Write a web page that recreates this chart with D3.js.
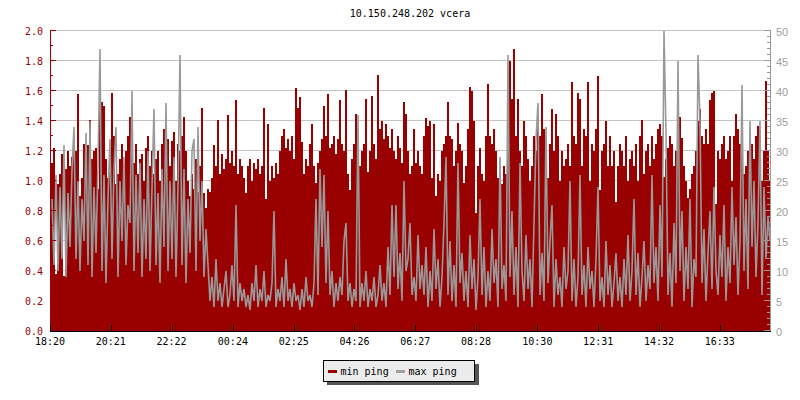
<!DOCTYPE html>
<html><head><meta charset="utf-8">
<script src="https://cdn.jsdelivr.net/npm/d3@7"></script>
<style>body{margin:0;background:#fff}svg{display:block}</style>
</head><body><svg id="c" width="800" height="400"></svg>
<script>
const title = "10.150.248.202 vcera";
const xLabels = ["18:20","20:21","22:22","00:24","02:25","04:26","06:27","08:28","10:30","12:31","14:32","16:33"];
const leftTickLabels = ["0.0","0.2","0.4","0.6","0.8","1.0","1.2","1.4","1.6","1.8","2.0"];
const rightTickLabels = ["0","5","10","15","20","25","30","35","40","45","50"];
const seriesNames = ["min ping","max ping"];
const spanMinutes = 1433;

// min ping (ms, left axis)
const minPing = [
1.12,1.22,0.38,0.98,1.05,1.18,0.37,1.08,1.2,1.1,1.16,1.28,1.2,1.58,0.9,1.02,1.25,1.04,1.24,1.41,
1.15,1.2,1.22,0.95,1.47,1.53,1.5,1.15,1.02,1.2,1.59,1.3,0.98,1.05,1.15,1.25,1.1,1.2,1.3,1.43,
1.2,1.12,1.25,1.05,1.15,1.18,1.0,1.22,1.3,1.1,1.2,1.05,1.15,1.2,1.0,1.25,1.35,1.2,1.28,1.1,
1.27,1.33,1.0,1.25,1.2,1.3,1.43,1.2,1.0,0.9,1.05,0.95,1.15,0.93,1.1,1.49,0.92,0.82,
0.95,0.93,1.02,1.24,1.1,1.41,1.05,1.18,1.08,1.15,1.44,1.12,1.2,1.1,1.54,1.05,1.15,1.1,1.02,0.92,
1.1,1.15,1.0,1.12,1.08,1.15,1.05,1.1,1.49,0.88,1.38,1.0,1.1,1.02,1.12,1.05,1.2,1.3,1.35,1.22,
1.28,1.2,1.3,1.15,1.62,1.49,1.56,1.26,1.05,1.15,1.1,1.25,1.38,1.1,0.99,1.12,1.2,1.28,1.5,1.3,
1.58,1.22,1.25,1.3,1.18,1.28,1.54,1.25,1.2,1.61,1.05,0.94,1.15,1.25,1.45,1.18,1.1,1.2,1.25,1.55,
1.06,1.2,1.57,1.25,1.15,1.71,1.35,1.4,1.28,1.38,1.3,1.22,1.35,1.2,1.15,1.3,1.22,1.12,1.53,1.45,
1.2,1.05,1.1,1.35,1.12,1.2,1.1,1.05,
1.3,1.42,1.37,1.4,1.02,1.38,0.9,1.05,1.0,1.2,1.25,1.3,1.53,1.3,1.28,1.1,1.2,1.39,1.25,1.2,
0.99,1.1,1.35,1.63,1.6,1.4,0.79,1.1,1.22,1.05,1.0,1.3,1.65,1.3,1.25,1.35,1.2,1.02,1.05,0.98,
1.1,1.05,1.4,1.8,1.55,1.88,1.3,1.55,1.2,1.1,1.4,1.3,1.15,1.0,1.1,1.3,1.2,1.45,1.3,1.58,
1.35,1.2,1.02,1.25,1.48,1.2,1.45,1.3,1.0,1.2,1.1,1.15,1.25,1.1,1.66,1.3,1.25,1.59,1.55,1.1,
1.35,1.3,1.66,1.0,1.25,1.2,1.35,1.7,0.94,1.2,1.25,1.4,1.1,1.3,1.1,1.2,0.86,1.1,1.25,1.2,
1.1,1.3,1.0,1.15,1.2,1.1,1.25,1.0,1.3,1.41,1.05,1.2,1.25,1.1,1.3,1.15,1.25,1.35,1.38,1.3,
1.03,1.15,1.22,1.3,1.25,1.1,1.2,1.35,1.43,1.29,1.1,1.0,0.89,0.95,1.05,1.1,1.2,1.4,1.48,1.3,
1.25,1.35,1.25,1.54,1.59,1.6,0.85,1.2,1.15,1.25,1.3,1.15,1.2,1.3,1.0,1.3,1.45,1.35,1.25,1.2,
1.05,1.1,1.2,1.15,1.25,1.15,1.3,1.37,1.1,1.0,1.2,1.67,1.2,1.0
];

// max ping (ms, right axis)
const maxPing = [
22,11,26,10,24,12,31,9,23,14,27,34,12,25,10,22,15,33,11,35,
9,24,13,28,47,10,26,8,22,32,12,27,34,9,25,15,29,11,21,18,
40,10,26,13,28,9,22,12,30,10,24,37,11,23,8,27,14,38,10,25,
12,29,9,24,46,11,27,8,22,13,30,32,10,34,15,25,9,17,
11,5,9,4,12,5,8,4,7,10,4,6,11,5,21,4,8,5,7,4,
6,3.5,8,5,11,4,7,5,10,4,6,5,8,20,4,7,5,9,4,12,
5,7,4,8,5,6,3.5,7,4,9,5,6,4,8,22,6,27,14,26,8,
20,6,10,4,8,5,9,6,15,18,5,8,4,7,5,36,4,8,5,10,
4,7,5,9,4,6,11,5,8,4,14,6,21,9,21,7,13,5,25,10,
12,18,6,9,5,16,7,11,
6,14,4,10,5,17,7,12,4,9,18,29,6,15,5,11,4,28,8,13,
5,10,4,16,7,12,3.5,9,22,6,14,4,10,5,17,8,12,4,29,7,
11,5,46,9,20,6,14,4,28,10,5,16,7,12,4,18,32,38,6,13,
5,34,8,15,21,4,12,6,9,4,14,7,10,25,5,12,4,9,26,6,
11,4,14,7,10,4,12,24,5,9,4,15,6,11,4,8,13,5,9,4,
12,6,16,5,10,22,6,13,4,9,15,5,11,7,26,8,14,5,21,9,
50,33,6,13,4,18,8,45,10,20,5,14,7,22,4,12,9,46,35,8,
17,5,13,20,7,24,10,6,16,9,21,5,14,8,24,11,19,6,15,41,
10,22,7,35,14,25,9,18,35,6,24,12,19,15
];

const svg = d3.select("#c");
const N = minPing.length;
const step = spanMinutes / N;

const x = d3.scaleLinear().domain([0, spanMinutes]).range([51, 771]);
const yL = d3.scaleLinear().domain([0, 2]).range([331, 31]);
const yR = d3.scaleLinear().domain([0, 50]).range([331, 31]);

const leftVals = leftTickLabels.map(Number);

// gridlines
svg.append("g").selectAll("line").data(leftVals.filter(v => v > 0)).join("line")
  .attr("x1", 50).attr("x2", 770)
  .attr("y1", d => Math.round(yL(d)) - 0.5).attr("y2", d => Math.round(yL(d)) - 0.5)
  .attr("stroke", "#c4c4c4").attr("stroke-width", 1);

svg.append("defs").append("clipPath").attr("id", "clip")
  .append("rect").attr("x", 51).attr("y", 30).attr("width", 719).attr("height", 301);

const plot = svg.append("g").attr("clip-path", "url(#clip)");

// min ping: filled area
const redPts = minPing.map((v, i) => ({ t: i * step, v }));
redPts.push({ t: spanMinutes, v: minPing[N - 1] });
const area = d3.area().x(d => x(d.t)).y0(yL(0)).y1(d => yL(d.v)).curve(d3.curveStepAfter);
plot.append("path").datum(redPts).attr("d", area).attr("fill", "#990000")
  .attr("shape-rendering", "crispEdges");

// max ping: line
const grayPts = maxPing.map((v, i) => ({ t: (i + 0.5) * step, v }));
const line = d3.line().x(d => x(d.t)).y(d => yR(d.v));
plot.append("path").datum(grayPts).attr("d", line)
  .attr("fill", "none").attr("stroke", "#999999").attr("stroke-width", 1.6)
  .attr("stroke-linejoin", "miter").attr("stroke-miterlimit", 2);

// left axis
const gl = svg.append("g");
gl.append("line").attr("x1", 50.5).attr("x2", 50.5).attr("y1", 30).attr("y2", 331)
  .attr("stroke", "#990000");
const leftMinor = d3.range(0, 21).map(k => k / 10);
gl.selectAll("line.t").data(leftMinor).join("line").attr("class", "t")
  .attr("x1", 50).attr("x2", (d, i) => i % 2 === 0 ? 56 : 53)
  .attr("y1", d => Math.round(yL(d)) - 0.5).attr("y2", d => Math.round(yL(d)) - 0.5)
  .attr("stroke", "#990000");
gl.selectAll("text").data(leftTickLabels).join("text")
  .attr("x", 43).attr("y", d => yL(+d) + 0.5)
  .attr("text-anchor", "end").attr("dominant-baseline", "central")
  .attr("font-family", "DejaVu Sans Mono").attr("font-size", 10)
  .attr("fill", "#990000").text(d => d);

// right axis
const gr = svg.append("g");
gr.append("line").attr("x1", 770.5).attr("x2", 770.5).attr("y1", 30).attr("y2", 332)
  .attr("stroke", "#999999");
const rightMinor = d3.range(0, 51);
gr.selectAll("line.t").data(rightMinor).join("line").attr("class", "t")
  .attr("x1", d => d % 5 === 0 ? 764 : 767).attr("x2", 771)
  .attr("y1", d => Math.round(yR(d)) - 0.5).attr("y2", d => Math.round(yR(d)) - 0.5)
  .attr("stroke", "#999999");
gr.selectAll("text").data(rightTickLabels).join("text")
  .attr("x", 776).attr("y", d => yR(+d) + 0.5)
  .attr("dominant-baseline", "central")
  .attr("font-family", "Liberation Sans, Arial, sans-serif").attr("font-size", 11)
  .attr("fill", "#a0a0a0").text(d => d);

// bottom axis
const toMin = s => { const [h, m] = s.split(":").map(Number); return h * 60 + m; };
const t0 = toMin(xLabels[0]);
const tickMins = xLabels.map(s => ((toMin(s) - t0) + 1440) % 1440);
const gb = svg.append("g");
gb.append("line").attr("x1", 50).attr("x2", 771).attr("y1", 331.5).attr("y2", 331.5).attr("stroke", "#000");
gb.selectAll("line.t").data(tickMins).join("line").attr("class", "t")
  .attr("x1", d => Math.round(x(d)) - 0.5).attr("x2", d => Math.round(x(d)) - 0.5)
  .attr("y1", 325).attr("y2", 332).attr("stroke", "#000");
gb.selectAll("text").data(xLabels).join("text")
  .attr("x", (d, i) => x(tickMins[i]) - 1).attr("y", 345)
  .attr("text-anchor", "middle")
  .attr("font-family", "DejaVu Sans Mono").attr("font-size", 10)
  .attr("fill", "#000").text(d => d);

// title
svg.append("text").attr("x", 410).attr("y", 17).attr("text-anchor", "middle")
  .attr("font-family", "DejaVu Sans Mono").attr("font-size", 10).attr("fill", "#000")
  .text(title);

// legend
const lg = svg.append("g");
lg.append("rect").attr("x", 327).attr("y", 364).attr("width", 152).attr("height", 21).attr("fill", "#555555");
lg.append("rect").attr("x", 323.5).attr("y", 360.5).attr("width", 151).attr("height", 21)
  .attr("fill", "#ebebeb").attr("stroke", "#000");
const legColors = ["#990000", "#a0a0a0"];
const legX = [328, 396];
seriesNames.forEach((name, i) => {
  lg.append("rect").attr("x", legX[i]).attr("y", 370).attr("width", 9).attr("height", 3)
    .attr("fill", legColors[i]);
  lg.append("text").attr("x", legX[i] + 12.5).attr("y", 371.5).attr("dominant-baseline", "central")
    .attr("font-family", "DejaVu Sans Mono").attr("font-size", 10).attr("fill", "#000").text(name);
});
</script>
</body></html>
